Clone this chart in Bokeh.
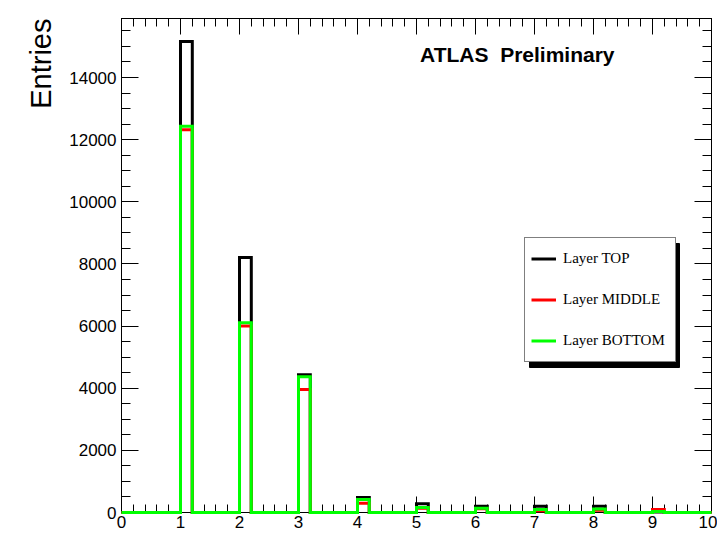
from bokeh.plotting import figure
from bokeh.models import (LinearAxis, SingleIntervalTicker, Legend, LegendItem,
                          Label, BoxAnnotation, Title, Range1d, CustomJSTickFormatter)
from bokeh.embed import file_html
from bokeh.resources import INLINE

# ---- data ----
bin_width = 0.2
bin_starts = [1, 2, 3, 4, 5, 6, 7, 8, 9]
top_counts = [15160, 8210, 4430, 480, 280, 200, 200, 200, 20]
middle_counts = [12320, 6000, 3960, 300, 140, 120, 60, 70, 100]
bottom_counts = [12430, 6110, 4370, 420, 160, 140, 100, 110, 30]
series_labels = ["Layer TOP", "Layer MIDDLE", "Layer BOTTOM"]
series_colors = ["black", "red", "#00ff00"]
x_lo, x_hi = 0, 10
y_hi = 15900
title_text = "ATLAS \u00a0Preliminary"
y_title = "Entries"

# ---- layout (pixels) ----
W, H = 717, 534
B_LEFT, B_TOP, B_RIGHT, B_BOTTOM = 121, 18, 6, 22
FW = W - B_LEFT - B_RIGHT
FH = H - B_TOP - B_BOTTOM


def outline(starts, counts, w):
    xs, ys = [x_lo], [0]
    for s, c in zip(starts, counts):
        xs += [s, s, s + w, s + w]
        ys += [0, c, c, 0]
    xs.append(x_hi)
    ys.append(0)
    return xs, ys


FONT = "Liberation Sans"

p = figure(width=W, height=H,
           x_range=Range1d(x_lo, x_hi), y_range=Range1d(0, y_hi),
           output_backend="svg", toolbar_location=None,
           min_border_left=B_LEFT, min_border_top=B_TOP, min_border_right=B_RIGHT,
           min_border_bottom=B_BOTTOM, x_axis_location=None, y_axis_location=None)
p.xgrid.visible = False
p.ygrid.visible = False
p.outline_line_color = "black"
p.outline_line_width = 1
p.background_fill_color = "white"
p.border_fill_color = "white"

blank = CustomJSTickFormatter(code="return '';")


def style_axis(ax, interval, minor, tin, tmin, labels, standoff):
    ax.ticker = SingleIntervalTicker(interval=interval, num_minor_ticks=minor)
    ax.major_tick_in = tin
    ax.major_tick_out = 0
    ax.minor_tick_in = tmin
    ax.minor_tick_out = 0
    ax.axis_line_color = "black"
    ax.major_tick_line_color = "black"
    ax.minor_tick_line_color = "black"
    if labels:
        ax.major_label_text_font = FONT
        ax.major_label_text_font_size = "17px"
        ax.major_label_text_color = "black"
        ax.major_label_standoff = standoff
    else:
        ax.formatter = blank
        ax.major_label_text_font_size = "1px"
        ax.major_label_standoff = 0


xb = LinearAxis()
style_axis(xb, 1, 5, 16, 8, True, 3)
p.add_layout(xb, "below")
xt = LinearAxis()
style_axis(xt, 1, 5, 16, 8, False, 0)
p.add_layout(xt, "above")
yl = LinearAxis()
style_axis(yl, 2000, 4, 17, 9, True, 5)
p.add_layout(yl, "left")
yr = LinearAxis()
style_axis(yr, 2000, 4, 17, 9, False, 0)
p.add_layout(yr, "right")

p.add_layout(Title(text=y_title, align="right", text_font=FONT,
                   text_font_size="29px", text_font_style="normal",
                   text_color="black", standoff=19), "left")

renderers = []
for counts, color in zip([top_counts, middle_counts, bottom_counts], series_colors):
    xs, ys = outline(bin_starts, counts, bin_width)
    r = p.line(xs, ys, line_color=color, line_width=3, line_join="miter",
               level="overlay")
    renderers.append(r)

# legend placement in frame pixels (from bottom-left), and its drop shadow
LEG_X, LEG_Y = round(0.683 * FW), round(0.304 * FH)
LEG_W, LEG_H = 150, 124
SH = 5
p.add_layout(BoxAnnotation(left=(LEG_X + SH) / FW * (x_hi - x_lo),
                           right=(LEG_X + SH + LEG_W) / FW * (x_hi - x_lo),
                           bottom=(LEG_Y - SH) / FH * y_hi,
                           top=(LEG_Y - SH + LEG_H) / FH * y_hi,
                           fill_color="black", fill_alpha=1.0,
                           line_color="black", line_alpha=1.0))

legend = Legend(items=[LegendItem(label=l, renderers=[r])
                       for l, r in zip(series_labels, renderers)],
                location=(LEG_X, LEG_Y), margin=0, padding=6, spacing=12,
                glyph_width=25, glyph_height=29, label_height=29,
                label_width=106, label_standoff=7,
                label_text_font="Liberation Serif", label_text_font_size="15px",
                label_text_color="black", border_line_color="black",
                border_line_width=1, background_fill_color="white",
                background_fill_alpha=1.0)
p.add_layout(legend)

p.add_layout(Label(x=5.06, y=14740, text=title_text, text_font=FONT,
                   text_font_size="21px", text_font_style="bold",
                   text_color="black", text_baseline="alphabetic"))

open("out.html", "w").write(file_html(p, INLINE))
